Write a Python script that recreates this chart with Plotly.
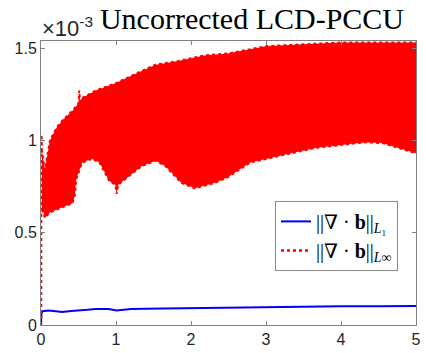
import plotly.graph_objects as go

# ---- data ----
blue_x = [0, 0.005, 0.02, 0.1, 0.2, 0.28, 0.4, 0.51, 0.62, 0.73, 0.9, 1.01, 1.2, 1.39, 1.7, 2.0, 2.5, 3.0, 3.5, 4.0, 4.5, 5.0]
blue_y = [0, 0.060e-3, 0.075e-3, 0.078e-3, 0.075e-3, 0.070e-3, 0.076e-3, 0.077e-3, 0.082e-3, 0.087e-3, 0.086e-3, 0.078e-3,
          0.087e-3, 0.088e-3, 0.090e-3, 0.092e-3, 0.096e-3, 0.099e-3, 0.100e-3, 0.102e-3, 0.102e-3, 0.103e-3]

# start of the L_inf series (vertical spike at t=0)
red_start_x = [0, 0.003, 0.006, 0.01]
red_start_y = [0, 1.03e-3, 0.58e-3, 0.95e-3]

# upper / lower envelope of the rapidly oscillating L_inf series
red_upper_x = [0.01, 0.05, 0.12, 0.21, 0.29, 0.42, 0.50, 0.51, 0.52, 0.55, 0.73, 1.0, 1.26, 1.53, 1.83, 2.18, 2.49, 3.0, 3.5, 4.0, 4.5, 5.0]
red_upper_y = [0.95e-3, 0.84e-3, 1.00e-3, 1.07e-3, 1.11e-3, 1.16e-3, 1.20e-3, 1.27e-3, 1.21e-3, 1.23e-3, 1.27e-3, 1.31e-3,
               1.36e-3, 1.41e-3, 1.43e-3, 1.46e-3, 1.47e-3, 1.51e-3, 1.52e-3, 1.53e-3, 1.53e-3, 1.53e-3]
red_lower_x = [0.01, 0.03, 0.05, 0.12, 0.29, 0.42, 0.45, 0.47, 0.55, 0.68, 0.78, 0.91, 0.99, 1.01, 1.03, 1.13, 1.34, 1.53,
               1.66, 1.87, 2.05, 2.32, 2.49, 2.79, 3.23, 3.67, 4.02, 4.33, 4.55, 5.0]
red_lower_y = [0.60e-3, 0.62e-3, 0.58e-3, 0.61e-3, 0.64e-3, 0.66e-3, 0.70e-3, 0.79e-3, 0.88e-3, 0.90e-3, 0.88e-3, 0.78e-3,
               0.76e-3, 0.71e-3, 0.76e-3, 0.79e-3, 0.86e-3, 0.89e-3, 0.86e-3, 0.77e-3, 0.74e-3, 0.77e-3, 0.80e-3, 0.88e-3,
               0.92e-3, 0.96e-3, 0.975e-3, 0.99e-3, 0.985e-3, 0.93e-3]

x_ticks = [0, 1, 2, 3, 4, 5]
y_tickvals = [0, 0.5e-3, 1e-3, 1.5e-3]
y_ticktext = ["0", "0.5", "1", "1.5"]
title_text = "Uncorrected LCD-PCCU"
legend_l1 = "||∇ · <b>b</b>||<sub><i>L</i>₁</sub>"
legend_linf = "||∇ · <b>b</b>||<sub><i>L</i>∞</sub>"
exponent_text = "×10<sup>-3</sup>"

RED = "#ff0000"
BLUE = "#0000ff"
SERIF = "Liberation Serif, DejaVu Serif, serif"
SANS = "Liberation Sans, Arial, sans-serif"

fig = go.Figure()

# oscillation band of L_inf
band_x = red_upper_x + red_lower_x[::-1]
band_y = red_upper_y + red_lower_y[::-1]
fig.add_trace(go.Scatter(x=band_x, y=band_y, mode="lines", fill="toself", fillcolor=RED,
                         line=dict(color=RED, width=2, dash="dot"), showlegend=False, hoverinfo="skip"))

fig.add_trace(go.Scatter(x=blue_x, y=blue_y, mode="lines", name=legend_l1,
                         line=dict(color=BLUE, width=2)))
fig.add_trace(go.Scatter(x=red_start_x, y=red_start_y, mode="lines", name=legend_linf,
                         line=dict(color=RED, width=2.5, dash="dot")))

axis_common = dict(showline=True, linecolor="#808080", linewidth=1, mirror="ticks",
                   ticks="inside", ticklen=4, tickcolor="#808080", showgrid=False, zeroline=False,
                   tickfont=dict(family=SANS, size=16, color="#262626"))

fig.update_xaxes(range=[0, 5], tickvals=x_ticks, **axis_common)
fig.update_yaxes(range=[0, 1.538e-3], tickvals=y_tickvals, ticktext=y_ticktext, **axis_common)

fig.update_layout(
    width=426, height=353,
    margin=dict(l=41, r=5, t=41, b=28),
    paper_bgcolor="white", plot_bgcolor="white",
    title=dict(text=title_text, x=252 / 426, xanchor="center", xref="container",
               y=1 - 18 / 353, yanchor="middle", yref="container",
               font=dict(family=SERIF, size=30, color="#000000")),
    legend=dict(x=0.624, y=0.437, xanchor="left", yanchor="top",
                bgcolor="white", bordercolor="#8a8a8a", borderwidth=1,
                font=dict(family=SERIF, size=20, color="#000000"),
                tracegroupgap=0),
    showlegend=True,
)

fig.add_annotation(text=exponent_text, xref="paper", yref="paper", x=0, y=1,
                   xanchor="left", yanchor="bottom", yshift=-2, xshift=-1, showarrow=False,
                   font=dict(family=SANS, size=22, color="#262626"))

fig.write_html("out.html")
